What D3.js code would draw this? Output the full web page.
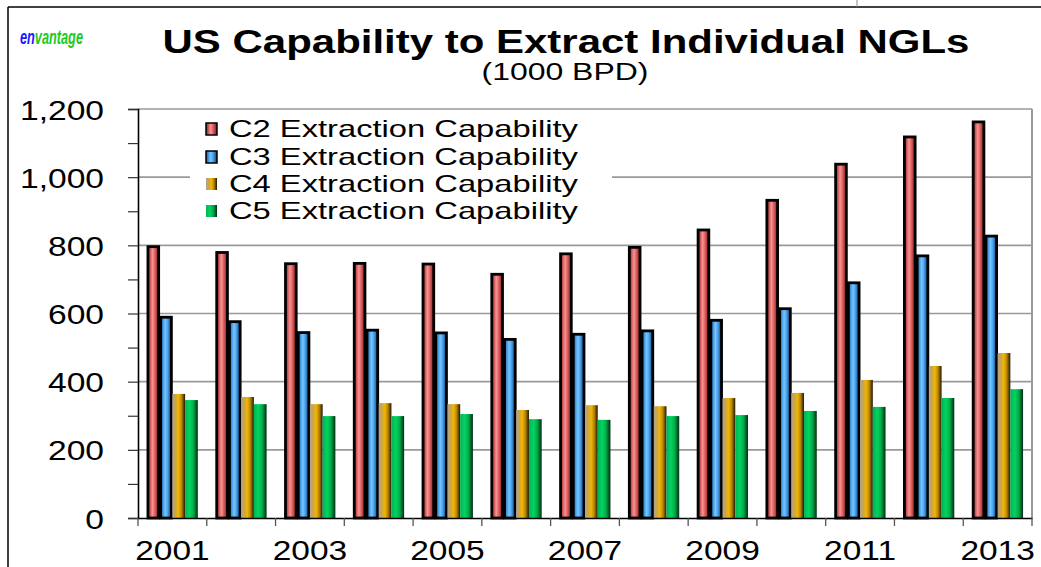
<!DOCTYPE html>
<html><head><meta charset="utf-8">
<script src="https://cdn.jsdelivr.net/npm/d3@7"></script>
<style>
html,body{margin:0;padding:0;background:#fff;}
svg{display:block;font-family:"Liberation Sans",Arial,sans-serif;}
</style></head>
<body><svg id="chart" width="1041" height="567"></svg>
<script>
const years = ["2001","2002","2003","2004","2005","2006","2007","2008","2009","2010","2011","2012","2013"];
const c2 = [799,782,749,750,748,718,778,797,848,935,1041,1121,1165];
const c3 = [592,579,547,554,546,527,542,552,583,617,693,772,830];
const c4 = [364,355,334,337,334,317,331,328,352,367,405,446,484];
const c5 = [346,334,299,299,305,290,288,299,302,314,326,352,378];
const seriesKeys = ["c2","c3","c4","c5"];
const seriesNames = ["C2 Extraction Capability","C3 Extraction Capability","C4 Extraction Capability","C5 Extraction Capability"];
const yTickValues = [0,100,200,300,400,500,600,700,800,900,1000,1100,1200];
const yGridValues = [200,400,600,800,1000,1200];
const xLabelYears = ["2001","2003","2005","2007","2009","2011","2013"];
const titleText = "US Capability to Extract Individual NGLs";
const subtitleText = "(1000 BPD)";

(function(){
const rows = years.map((yr,i)=>({year:yr, c2:c2[i], c3:c3[i], c4:c4[i], c5:c5[i]}));

const svg = d3.select("#chart");
const W = 1041, H = 567;
const pL = 138, pR = 1032, pT = 109, pB = 518;

const defs = svg.append("defs");
function grad(id, stops){
  const g = defs.append("linearGradient").attr("id",id).attr("x1","0%").attr("x2","100%").attr("y1","0%").attr("y2","0%");
  stops.forEach(s=>g.append("stop").attr("offset",s[0]).attr("stop-color",s[1]));
}
grad("g-c2",[["0%","#6a2222"],["18%","#c84c4c"],["42%","#f49494"],["60%","#e86a6a"],["85%","#a83636"],["100%","#4a1212"]]);
grad("g-c3",[["0%","#1a4c84"],["20%","#3c94dc"],["42%","#78c4ff"],["62%","#4caaf2"],["86%","#2466a8"],["100%","#0c2848"]]);
grad("g-c4",[["0%","#b0a698"],["22%","#c8a44c"],["48%","#f2b600"],["72%","#b88600"],["100%","#1e1600"]]);
grad("g-c5",[["0%","#00b454"],["35%","#00d462"],["65%","#00ac48"],["100%","#002c12"]]);
const fills = {c2:"url(#g-c2)", c3:"url(#g-c3)", c4:"url(#g-c4)", c5:"url(#g-c5)"};
const strokes = {c2:"#000", c3:"#000", c4:"none", c5:"none"};

// frame
svg.append("line").attr("x1",8).attr("x2",8).attr("y1",7).attr("y2",H).attr("stroke","#000").attr("stroke-width",1.5);
svg.append("line").attr("x1",8).attr("x2",W).attr("y1",7).attr("y2",7).attr("stroke","#000").attr("stroke-width",1.5);
svg.append("line").attr("x1",857).attr("x2",857).attr("y1",0).attr("y2",7).attr("stroke","#888").attr("stroke-width",1);

const x0 = d3.scaleBand().domain(years).range([pL,pR]).paddingInner(0.26).paddingOuter(0.13);
const x1 = d3.scaleBand().domain(seriesKeys).range([0,x0.bandwidth()]).padding(0);
const y = d3.scaleLinear().domain([0,1200]).range([pB,pT]);

// gridlines
svg.append("g").selectAll("line").data(yGridValues).join("line")
  .attr("x1",pL).attr("x2",pR).attr("y1",d=>y(d)).attr("y2",d=>y(d))
  .attr("stroke","#9a9a9a").attr("stroke-width",1.6);
svg.append("line").attr("x1",pR).attr("x2",pR).attr("y1",pT).attr("y2",pB).attr("stroke","#9a9a9a").attr("stroke-width",2);

// bars
const groups = svg.append("g").selectAll("g").data(rows).join("g")
  .attr("transform",d=>`translate(${x0(d.year)},0)`);
groups.selectAll("rect").data(d=>seriesKeys.map(k=>({key:k, value:d[k]}))).join("rect")
  .attr("x",d=>x1(d.key)+(strokes[d.key]!=="none"?1:0))
  .attr("width",d=>x1.bandwidth()-(strokes[d.key]!=="none"?2:0))
  .attr("y",d=>y(d.value)+(strokes[d.key]!=="none"?1:0))
  .attr("height",d=>pB-y(d.value)-(strokes[d.key]!=="none"?1:0))
  .attr("fill",d=>fills[d.key]).attr("stroke",d=>strokes[d.key]).attr("stroke-width",2.8);

// y axis
const yAxis = d3.axisLeft(y).tickValues(yTickValues).tickSize(10).tickPadding(0)
  .tickFormat(d=> d%200===0 ? d3.format(",")(d) : "");
const ya = svg.append("g").attr("transform",`translate(${pL},0)`).call(yAxis);
ya.select(".domain").attr("stroke","#000").attr("stroke-width",1.6);
ya.selectAll(".tick line").attr("stroke","#333").attr("stroke-width",1.2);
const ysx = 1.2;
ya.selectAll(".tick text").attr("font-size",28).attr("fill","#000")
  .attr("font-family","'Liberation Sans',Arial,sans-serif")
  .attr("x",-34/ysx).attr("dy","0.36em").attr("transform",`scale(${ysx},1)`);

// x axis
const xb = d3.scaleBand().domain(years).range([pL,pR]);
const xAxis = d3.axisBottom(xb).tickSize(0).tickFormat(d=> xLabelYears.includes(d)?d:"");
const xa = svg.append("g").attr("transform",`translate(0,${pB})`).call(xAxis);
xa.select(".domain").attr("stroke","#000").attr("stroke-width",1.6);
const xsx = 1.24;
xa.selectAll(".tick text").attr("font-size",27).attr("fill","#000")
  .attr("font-family","'Liberation Sans',Arial,sans-serif")
  .attr("y",42).attr("dy",0).attr("transform",`scale(${xsx},1)`);
const bounds = years.map(d=>xb(d)).concat([pR]);
xa.append("g").selectAll("line").data(bounds).join("line")
  .attr("x1",d=>d).attr("x2",d=>d).attr("y1",0).attr("y2",8).attr("stroke","#555").attr("stroke-width",1.3);

function fit(t, targetW){
  const w = t.node().getComputedTextLength();
  const sx = targetW / w;
  const xx = +t.attr("x"), yy = +t.attr("y");
  t.attr("x",0).attr("y",0).attr("transform",`translate(${xx},${yy}) scale(${sx},1)`);
}

const tt = svg.append("text").attr("x",566).attr("y",53).attr("text-anchor","middle")
  .attr("font-size",33).attr("font-weight","bold").attr("fill","#000").text(titleText);
fit(tt, 807);
const st = svg.append("text").attr("x",565).attr("y",80).attr("text-anchor","middle")
  .attr("font-size",23).attr("fill","#000").text(subtitleText);
fit(st, 167);

const logo = svg.append("text").attr("x",20).attr("y",44).attr("font-size",21)
  .attr("font-style","italic").attr("font-weight","bold");
logo.append("tspan").attr("fill","#1a1aff").text("en");
logo.append("tspan").attr("fill","#22c822").text("vantage");
fit(logo, 63);

const leg = svg.append("g");
leg.append("rect").attr("x",190).attr("y",112).attr("width",422).attr("height",112).attr("fill","#fff");
const legRows = [129,157,184,211];
seriesKeys.forEach((k,i)=>{
  leg.append("rect").attr("x",206).attr("y",legRows[i]-6).attr("width",11).attr("height",12)
    .attr("fill",fills[k]).attr("stroke",strokes[k]==="none"?"none":"#000").attr("stroke-width",1.5);
  const t = leg.append("text").attr("x",229).attr("y",legRows[i]+8).attr("font-size",24).attr("fill","#000").text(seriesNames[i]);
  fit(t, 349);
});
})();
</script></body></html>
